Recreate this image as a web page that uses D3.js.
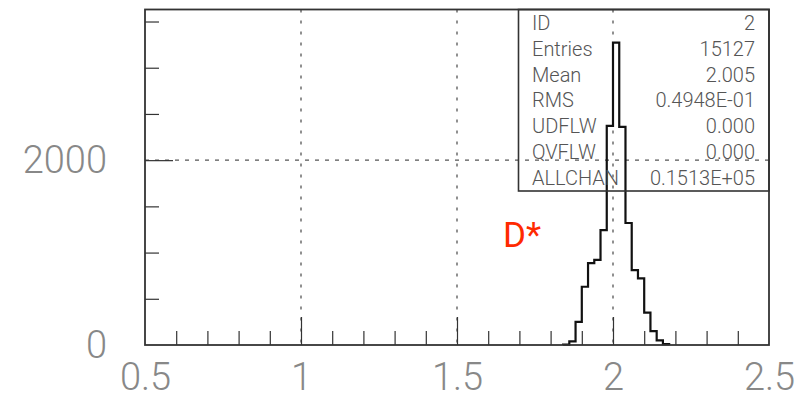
<!DOCTYPE html>
<html>
<head>
<meta charset="utf-8">
<script src="https://cdn.jsdelivr.net/npm/d3@7"></script>
<style>
  body { margin: 0; background: #fff; }
  svg text { font-family: Roboto, "Open Sans", "Liberation Sans", sans-serif; }
</style>
</head>
<body>
<svg id="chart" width="808" height="395"></svg>
<script>
// histogram bins (lower edge) and contents
var binLow = [1.84, 1.86, 1.88, 1.90, 1.92, 1.94, 1.96, 1.98, 2.00, 2.02, 2.04, 2.06, 2.08, 2.10, 2.12, 2.14, 2.16]
var counts = [5, 40, 250, 630, 885, 920, 1243, 2370, 3272, 2360, 1320, 811, 720, 350, 150, 50, 10]
var binWidth = 0.02

var xTickLabels = [0.5, 1, 1.5, 2, 2.5]
var xMajor = [1, 1.5, 2]
var yTickLabels = [0, 2000]
var yMinor = [500, 1000, 1500, 2500, 3000, 3500]

var statNames = ["ID", "Entries", "Mean", "RMS", "UDFLW", "QVFLW", "ALLCHAN"]
var statValues = ["2", "15127", "2.005", "0.4948E-01", "0.000", "0.000", "0.1513E+05"]

var svg = d3.select("#chart")

// frame edges (don't call it "top", that's window.top)
var fLeft = 145, fRight = 769, fTop = 9.5, fBottom = 345

var x = d3.scaleLinear()
    .domain([0.5, 2.5])
    .range([fLeft, fRight])

var y = d3.scaleLinear()
    .domain([0, 3630])
    .range([fBottom, fTop])

// dotted grid
svg.append("g")
  .selectAll("line")
  .data(xMajor)
  .enter().append("line")
  .attr("x1", d => x(d)).attr("x2", d => x(d))
  .attr("y1", fTop).attr("y2", fBottom)
  .attr("stroke", "#555")
  .attr("stroke-width", 1.3)
  .attr("stroke-dasharray", "3,8")

svg.append("line")
  .attr("x1", fLeft).attr("x2", fRight)
  .attr("y1", y(2000)).attr("y2", y(2000))
  .attr("stroke", "#555")
  .attr("stroke-width", 1.3)
  .attr("stroke-dasharray", "4,6")

// minor ticks, inward
var xMinorVals = d3.range(6, 25).map(d => d / 10).filter(d => xMajor.indexOf(d) < 0)

function tickStyle(g) {
  g.select(".domain").remove()
  g.selectAll("line").attr("stroke", "#333").attr("stroke-width", 1.2)
}

svg.append("g")
  .attr("transform", "translate(0," + fBottom + ")")
  .call(d3.axisBottom(x).tickValues(xMinorVals).tickSize(-14).tickFormat(""))
  .call(tickStyle)

svg.append("g")
  .attr("transform", "translate(0," + fBottom + ")")
  .call(d3.axisBottom(x).tickValues(xMajor).tickSize(-28).tickFormat(""))
  .call(tickStyle)

svg.append("g")
  .attr("transform", "translate(" + fLeft + ",0)")
  .call(d3.axisLeft(y).tickValues(yMinor).tickSize(-14).tickFormat(""))
  .call(tickStyle)

svg.append("g")
  .attr("transform", "translate(" + fLeft + ",0)")
  .call(d3.axisLeft(y).tickValues([2000]).tickSize(-28).tickFormat(""))
  .call(tickStyle)

// tick labels
function labelStyle(g) {
  g.select(".domain").remove()
  g.selectAll("text")
    .attr("font-family", "Roboto, 'Open Sans', sans-serif")
    .attr("font-size", 38).attr("font-weight", 300).attr("fill", "#888")
}

svg.append("g")
  .attr("transform", "translate(0," + fBottom + ")")
  .call(d3.axisBottom(x).tickValues(xTickLabels).tickSize(0).tickPadding(18).tickFormat(d3.format("")))
  .call(labelStyle)

svg.append("g")
  .attr("transform", "translate(" + fLeft + ",0)")
  .call(d3.axisLeft(y).tickValues(yTickLabels).tickSize(0).tickPadding(38).tickFormat(d3.format("")))
  .call(labelStyle)

// histogram outline
var pts = [[binLow[0], 0]]
binLow.forEach(function(b, i) {
  pts.push([b, counts[i]])
  pts.push([b + binWidth, counts[i]])
})
pts.push([binLow[binLow.length - 1] + binWidth, 0])

svg.append("path")
  .datum(pts)
  .attr("fill", "none")
  .attr("stroke", "#111")
  .attr("stroke-width", 2.2)
  .attr("d", d3.line().x(d => x(d[0])).y(d => y(d[1])))

// frame
svg.append("rect")
  .attr("x", fLeft).attr("y", fTop)
  .attr("width", fRight - fLeft).attr("height", fBottom - fTop)
  .attr("fill", "none")
  .attr("stroke", "#333")
  .attr("stroke-width", 1.8)

// stats box
var boxLeft = 518.5, boxBottom = 191, rowH = 25.8

svg.append("rect")
  .attr("x", boxLeft).attr("y", fTop)
  .attr("width", fRight - boxLeft).attr("height", boxBottom - fTop)
  .attr("fill", "none")
  .attr("stroke", "#333")
  .attr("stroke-width", 1.6)

var stats = svg.append("g")
  .attr("font-size", 20)
  .attr("font-weight", 300)
  .attr("fill", "#555")

stats.selectAll(".sname")
  .data(statNames)
  .enter().append("text")
  .attr("class", "sname")
  .attr("x", 532)
  .attr("y", (d, i) => 30 + i * rowH)
  .text(d => d)

stats.selectAll(".sval")
  .data(statValues)
  .enter().append("text")
  .attr("class", "sval")
  .attr("x", 755)
  .attr("y", (d, i) => 30 + i * rowH)
  .attr("text-anchor", "end")
  .text(d => d)

// particle label
svg.append("text")
  .attr("x", 503)
  .attr("y", 247)
  .attr("font-family", "'Liberation Sans', Arial, sans-serif")
  .attr("font-size", 35)
  .attr("fill", "#ff2a00")
  .text("D*")
</script>
</body>
</html>
